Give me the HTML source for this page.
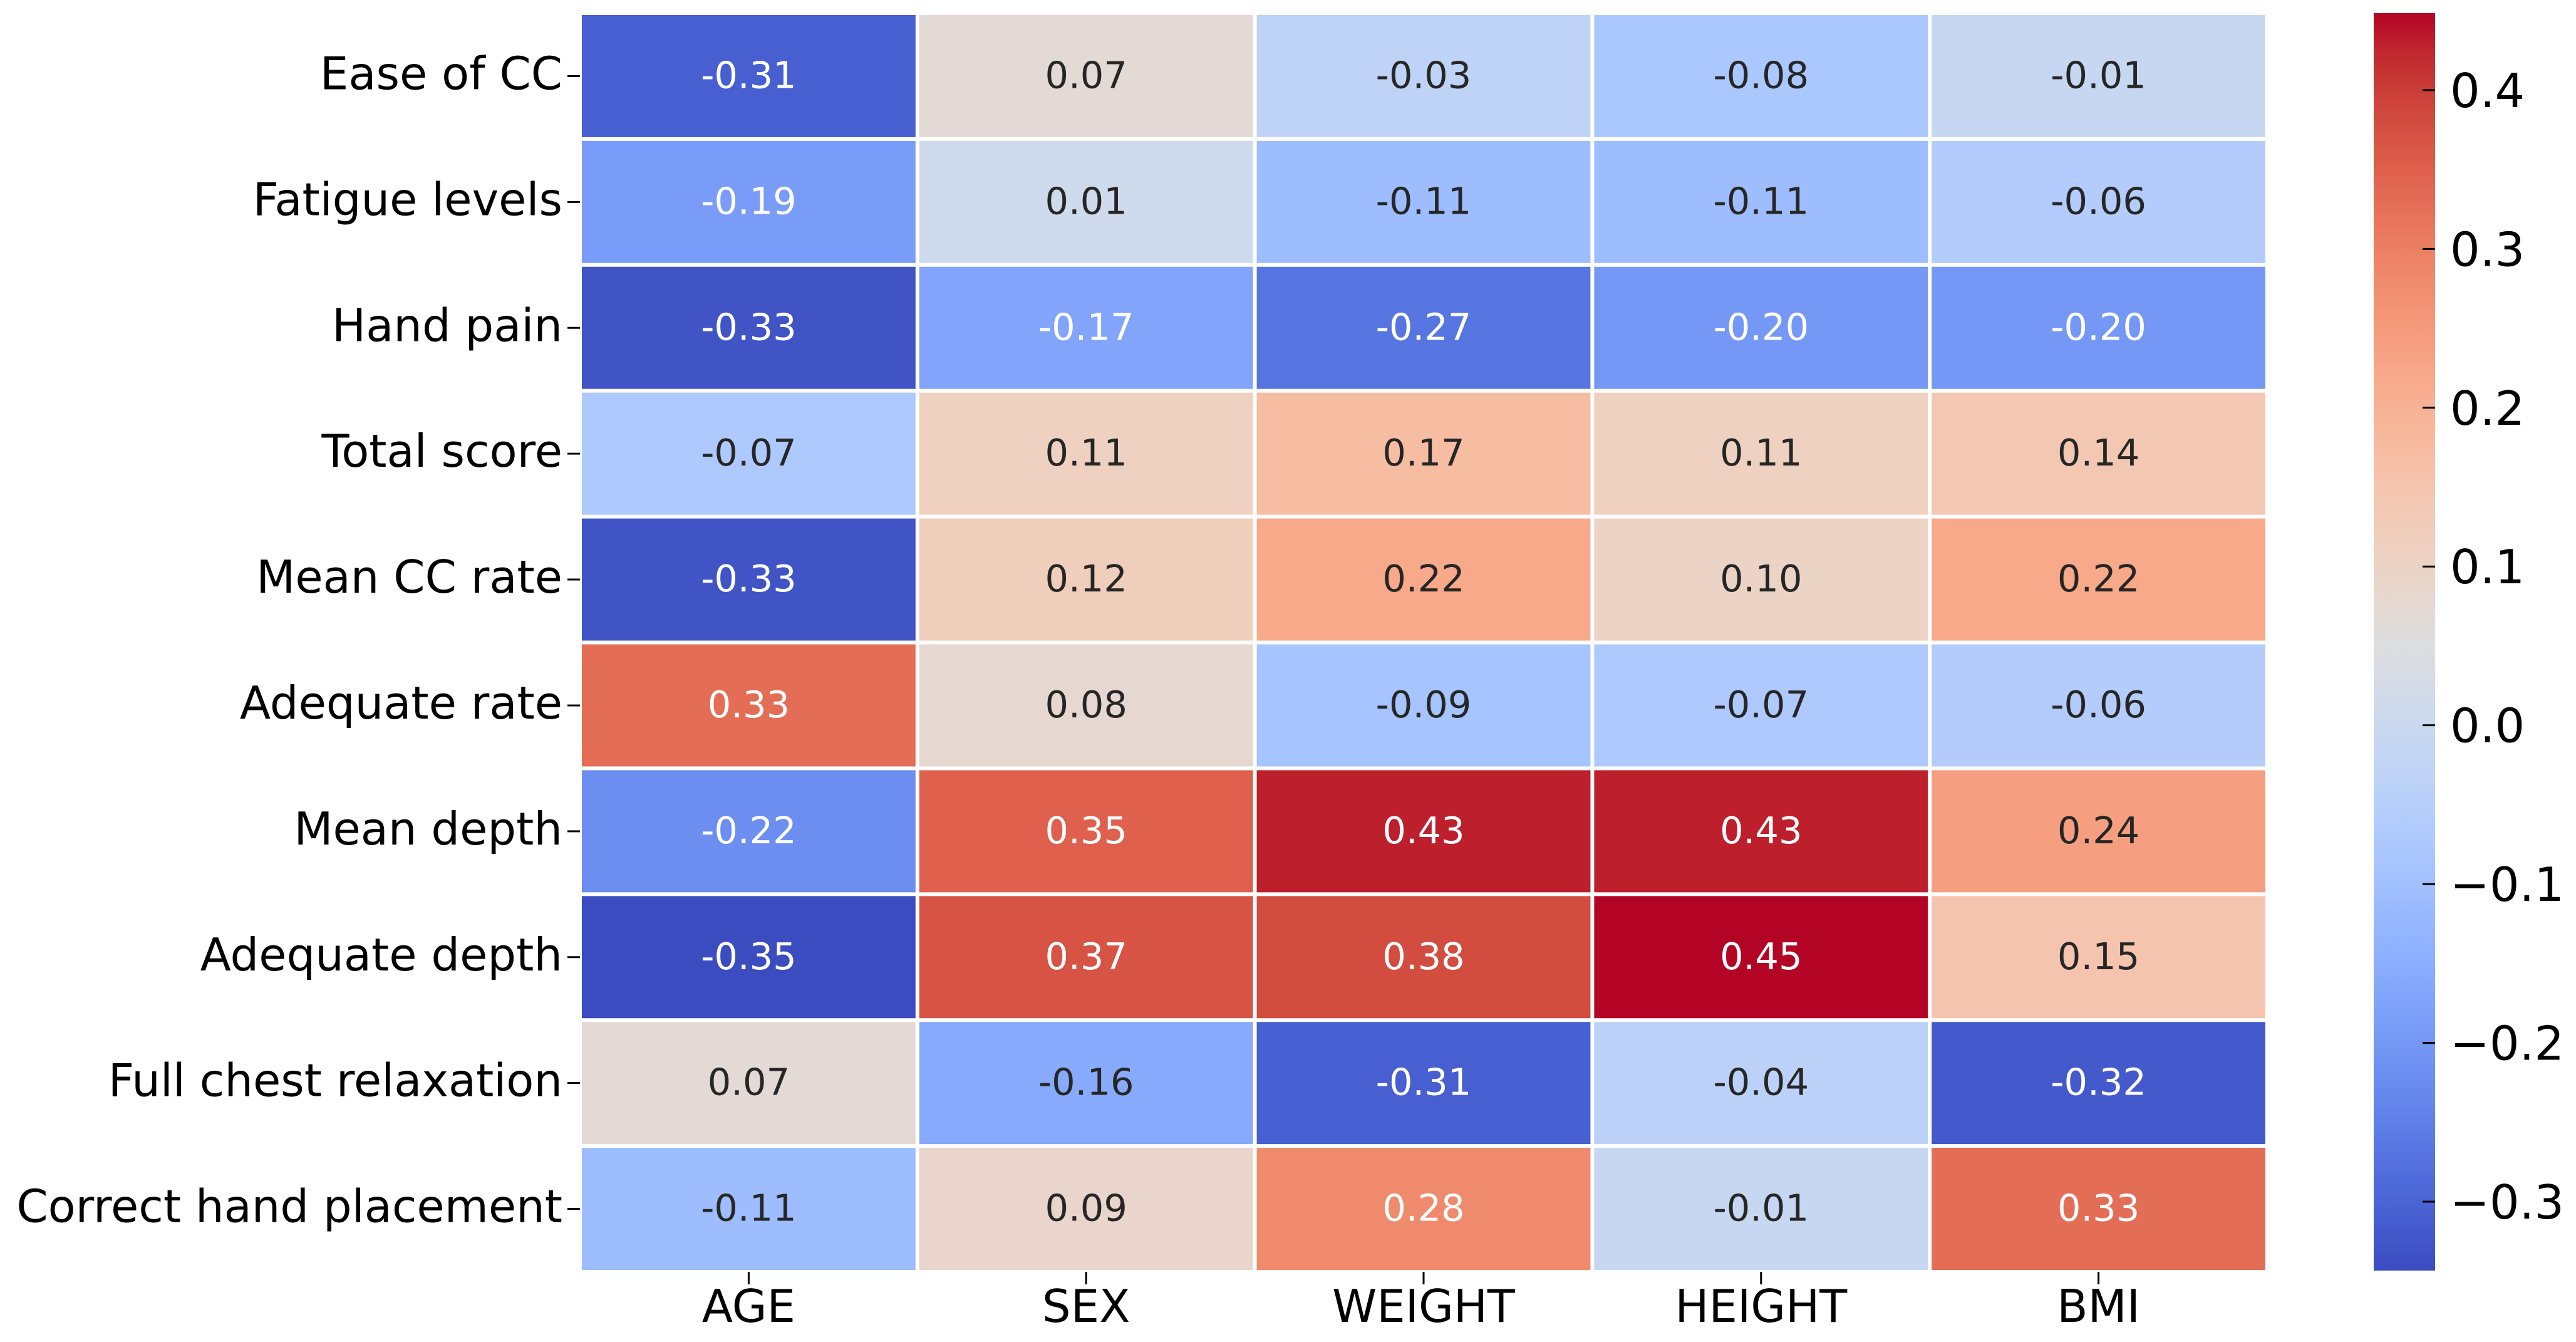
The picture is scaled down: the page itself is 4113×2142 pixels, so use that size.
<!DOCTYPE html>
<html><head><meta charset="utf-8"><style>
html,body{margin:0;padding:0;background:#fff;}
svg{display:block;font-family:"DejaVu Sans","Liberation Sans",sans-serif;}
</style></head><body>
<svg id="chart" width="4113" height="2142" viewBox="0 0 4113 2142" xmlns="http://www.w3.org/2000/svg">
<defs><linearGradient id="cbgrad" x1="0" y1="1" x2="0" y2="0"></linearGradient></defs>
<g id="cells"></g>
<g id="ylabels"></g>
<g id="xlabels"></g>
<g id="colorbar"></g>
</svg>
<script>
const rowLabels = ["Ease of CC","Fatigue levels","Hand pain","Total score","Mean CC rate","Adequate rate","Mean depth","Adequate depth","Full chest relaxation","Correct hand placement"];
const colLabels = ["AGE","SEX","WEIGHT","HEIGHT","BMI"];
const row0 = [-0.31,0.07,-0.03,-0.08,-0.01];
const row1 = [-0.19,0.01,-0.11,-0.11,-0.06];
const row2 = [-0.33,-0.17,-0.27,-0.20,-0.20];
const row3 = [-0.07,0.11,0.17,0.11,0.14];
const row4 = [-0.33,0.12,0.22,0.10,0.22];
const row5 = [0.33,0.08,-0.09,-0.07,-0.06];
const row6 = [-0.22,0.35,0.43,0.43,0.24];
const row7 = [-0.35,0.37,0.38,0.45,0.15];
const row8 = [0.07,-0.16,-0.31,-0.04,-0.32];
const row9 = [-0.11,0.09,0.28,-0.01,0.33];
const values = [row0,row1,row2,row3,row4,row5,row6,row7,row8,row9];
const cbTicks = [-0.3,-0.2,-0.1,0.0,0.1,0.2,0.3,0.4];
const cbTickLabels = ["\u22120.3","\u22120.2","\u22120.1","0.0","0.1","0.2","0.3","0.4"];
const vmin = -0.3434, vmax = 0.4485;

const NS = "http://www.w3.org/2000/svg";
const CM = [[59,76,192],[68,90,204],[77,104,215],[87,117,225],[98,130,234],[108,142,241],[119,154,247],[130,165,251],[141,176,254],[152,185,255],[163,194,255],[174,201,253],[184,208,249],[194,213,244],[204,217,238],[213,219,230],[221,221,221],[229,216,209],[236,211,197],[241,204,185],[245,196,173],[247,187,160],[247,177,148],[247,166,135],[244,154,123],[241,141,111],[236,127,99],[229,112,88],[222,96,77],[213,80,66],[203,62,56],[192,40,47],[180,4,38]];
function cmap(t){t=Math.max(0,Math.min(1,t));const f=t*32;const i=Math.min(31,Math.floor(f));const r=f-i;const a=CM[i],b=CM[i+1];return [0,1,2].map(k=>Math.round(a[k]+(b[k]-a[k])*r));}
function norm(v){return (v-vmin)/(vmax-vmin);}
function lum(c){const l=c.map(x=>{x/=255;return x<=0.04045?x/12.92:Math.pow((x+0.055)/1.055,2.4);});return 0.2126*l[0]+0.7152*l[1]+0.0722*l[2];}
function el(tag,attrs,parent){const e=document.createElementNS(NS,tag);for(const k in attrs)e.setAttribute(k,attrs[k]);parent.appendChild(e);return e;}

const X0=926,X1=3620,Y0=21,Y1=2030;
const cw=(X1-X0)/colLabels.length, rh=(Y1-Y0)/rowLabels.length;
const xPos=j=>X0+j*cw, yPos=i=>Y0+i*rh;
const cells=document.getElementById('cells');
values.forEach((row,i)=>{row.forEach((v,j)=>{
  const c=cmap(norm(v));
  const r=el('rect',{x:xPos(j)+3,y:yPos(i)+3,width:cw-6,height:rh-6,fill:`rgb(${c})`},cells);
  
  
  const t=el('text',{x:xPos(j)+cw/2,y:yPos(i)+rh/2+19,'text-anchor':'middle','font-size':59,fill:lum(c)>0.408?'#262626':'#ffffff'},cells);
  t.textContent=v.toFixed(2);
  
  
});});
const yl=document.getElementById('ylabels');
rowLabels.forEach((lab,i)=>{
  const cy=yPos(i)+rh/2;
  el('line',{x1:906,x2:926,y1:cy,y2:cy,stroke:'#000','stroke-width':3},yl);
  const t=el('text',{x:898,y:cy+21,'text-anchor':'end','font-size':72,fill:'#000'},yl);
  t.textContent=lab;
  
  
});
const xl=document.getElementById('xlabels');
colLabels.forEach((lab,j)=>{
  const cx=xPos(j)+cw/2;
  el('line',{x1:cx,x2:cx,y1:2030,y2:2050,stroke:'#000','stroke-width':3},xl);
  const t=el('text',{x:cx,y:2110,'text-anchor':'middle','font-size':72,fill:'#000'},xl);
  t.textContent=lab;
  
  
});
const CBX0=3790,CBX1=3888,CBY0=21,CBY1=2028;
const cbY=v=>CBY1-(v-vmin)/(vmax-vmin)*(CBY1-CBY0);
const grad=document.getElementById('cbgrad');
CM.forEach((c,k)=>{el('stop',{offset:(k/32),'stop-color':`rgb(${c})`},grad);});
const cb=document.getElementById('colorbar');
const bar=el('rect',{x:CBX0,y:CBY0,width:CBX1-CBX0,height:CBY1-CBY0,fill:'url(#cbgrad)'},cb);


cbTicks.forEach((v,k)=>{
  const y=cbY(v);
  el('line',{x1:CBX1-20,x2:CBX1,y1:y,y2:y,stroke:'#000','stroke-width':3},cb);
  const t=el('text',{x:3912,y:y+27,'font-size':75,fill:'#000'},cb);
  t.textContent=cbTickLabels[k];
  
  
});
</script>
</body></html>
